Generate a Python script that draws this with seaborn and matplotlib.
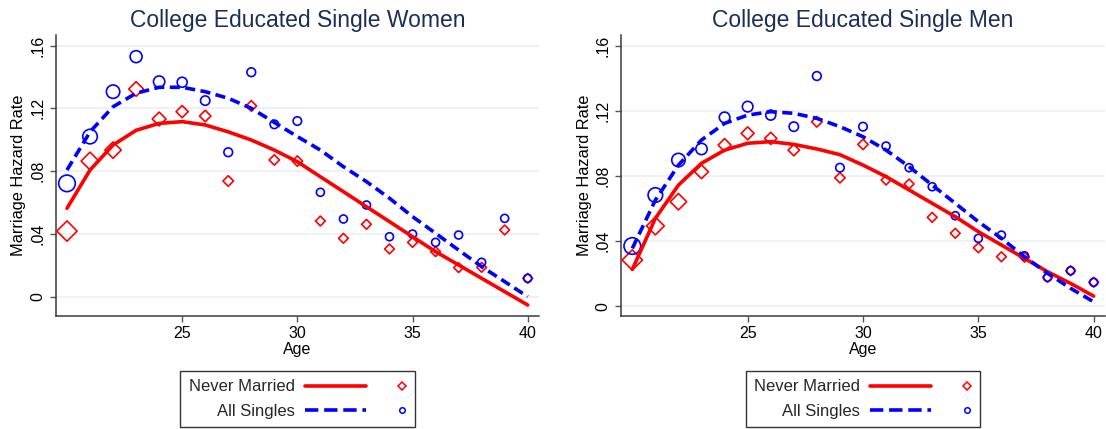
import numpy as np
import pandas as pd
import matplotlib
matplotlib.use("Agg")
import matplotlib.pyplot as plt
from matplotlib.lines import Line2D
from matplotlib.legend_handler import HandlerBase
import seaborn as sns

# ---------------- data ----------------
ages = [20, 21, 22, 23, 24, 25, 26, 27, 28, 29, 30, 31, 32, 33, 34, 35, 36, 37, 38, 39, 40]

women_nm_obs = [0.0418, 0.0864, 0.0934, 0.1323, 0.1132, 0.1179, 0.1151, 0.0737, 0.1215, 0.0871, 0.0864,
                0.0482, 0.0372, 0.0461, 0.0304, 0.0346, 0.0287, 0.0185, 0.0187, 0.0425, 0.0117]
women_all_obs = [0.0722, 0.1020, 0.1306, 0.1529, 0.1370, 0.1366, 0.1249, 0.0920, 0.1430, 0.1098, 0.1119,
                 0.0665, 0.0495, 0.0584, 0.0382, 0.0399, 0.0346, 0.0393, 0.0219, 0.0499, 0.0117]
women_nm_fit = [0.0563, 0.0807, 0.0966, 0.1060, 0.1104, 0.1115, 0.1094, 0.1050, 0.0998, 0.0934, 0.0860,
                0.0764, 0.0669, 0.0573, 0.0478, 0.0382, 0.0287, 0.0202, 0.0117, 0.0032, -0.0053]
women_all_fit = [0.0807, 0.1050, 0.1210, 0.1296, 0.1334, 0.1334, 0.1306, 0.1264, 0.1200, 0.1110, 0.1020,
                 0.0934, 0.0828, 0.0733, 0.0627, 0.0510, 0.0404, 0.0297, 0.0191, 0.0096, 0.0000]
women_weight = [69, 53, 45, 36, 32, 25, 22, 19, 19, 18, 18, 16, 16, 16, 16, 16, 16, 16, 16, 16, 16]

men_nm_obs = [0.0283, 0.0492, 0.0641, 0.0825, 0.0989, 0.1061, 0.1030, 0.0958, 0.1132, 0.0788, 0.0993,
              0.0774, 0.0750, 0.0545, 0.0447, 0.0358, 0.0303, 0.0300, 0.0176, 0.0217, 0.0146]
men_all_obs = [0.0369, 0.0682, 0.0897, 0.0965, 0.1159, 0.1225, 0.1173, 0.1102, 0.1413, 0.0850, 0.1102,
               0.0983, 0.0850, 0.0733, 0.0555, 0.0416, 0.0436, 0.0309, 0.0176, 0.0217, 0.0146]
men_nm_fit = [0.0225, 0.0539, 0.0743, 0.0877, 0.0958, 0.1000, 0.1010, 0.0993, 0.0965, 0.0930, 0.0866,
              0.0795, 0.0713, 0.0631, 0.0549, 0.0457, 0.0375, 0.0293, 0.0211, 0.0139, 0.0061]
men_all_fit = [0.0354, 0.0651, 0.0866, 0.1020, 0.1122, 0.1173, 0.1194, 0.1184, 0.1153, 0.1102, 0.1040,
               0.0958, 0.0856, 0.0743, 0.0631, 0.0518, 0.0416, 0.0303, 0.0201, 0.0109, 0.0026]
men_weight = [69, 53, 45, 32, 28, 28, 25, 22, 19, 18, 18, 16, 16, 16, 16, 16, 16, 16, 16, 16, 16]

titles = ["College Educated Single Women", "College Educated Single Men"]
series_labels = ["Never Married", "All Singles"]
ytick_vals = [0, 0.04, 0.08, 0.12, 0.16]
ytick_labels = ["0", ".04", ".08", ".12", ".16"]
xtick_vals = [25, 30, 35, 40]

# ---------------- style ----------------
sns.set_theme(style="white")
plt.rcParams["font.family"] = ["Liberation Sans", "DejaVu Sans"]

RED = "#ff0000"
BLUE = "#0000ff"
TITLE_C = "#1c2d5a"
DASH = (0, (2.8, 1.5))
LW = 2.6

fig = plt.figure(figsize=(11.06, 4.29), dpi=100)
W, H = 1106, 429


def axes_px(left, right, top, bottom):
    return fig.add_axes([left / W, (H - bottom) / H, (right - left) / W, (bottom - top) / H])


ax1 = axes_px(55.7, 539, 35, 316)
ax2 = axes_px(621, 1105, 35, 316)


class LineMarkerHandler(HandlerBase):
    def create_artists(self, legend, orig_handle, xdescent, ydescent,
                       width, height, fontsize, trans):
        line, mk = orig_handle
        y = height / 2.0 - ydescent
        x0 = -xdescent
        l = Line2D([x0, x0 + width * 0.60], [y, y], color=line.get_color(),
                   lw=line.get_linewidth(), linestyle=line.get_linestyle())
        m = Line2D([x0 + width * 0.955], [y], marker=mk.get_marker(), markersize=mk.get_markersize(),
                   markerfacecolor="none", markeredgecolor=mk.get_markeredgecolor(),
                   markeredgewidth=mk.get_markeredgewidth(), linestyle="none")
        l.set_transform(trans)
        m.set_transform(trans)
        return [l, m]


def draw_panel(ax, title, nm_obs, all_obs, nm_fit, all_fit, weight, ylim):
    df = pd.DataFrame({"age": ages, "nm_obs": nm_obs, "all_obs": all_obs,
                       "nm_fit": nm_fit, "all_fit": all_fit, "w": weight})
    wmin, wmax = min(weight), max(weight)
    sns.scatterplot(data=df, x="age", y="nm_obs", size="w", sizes=(1.55 * wmin, 1.55 * wmax),
                    marker="D", facecolor="none", edgecolor=RED, color=RED, linewidth=1.2,
                    legend=False, ax=ax, zorder=3)
    sns.scatterplot(data=df, x="age", y="all_obs", size="w", sizes=(2.07 * wmin, 2.07 * wmax),
                    marker="o", facecolor="none", edgecolor=BLUE, color=BLUE, linewidth=1.2,
                    legend=False, ax=ax, zorder=3)
    sns.lineplot(data=df, x="age", y="nm_fit", color=RED, lw=LW, errorbar=None, ax=ax, zorder=4)
    sns.lineplot(data=df, x="age", y="all_fit", color=BLUE, lw=LW, linestyle=DASH,
                 errorbar=None, ax=ax, zorder=4)

    ax.set_xlim(19.51, 40.49)
    ax.set_ylim(*ylim)
    ax.set_xticks(xtick_vals)
    ax.set_yticks(ytick_vals)
    ax.set_yticklabels(ytick_labels, rotation=90, va="center")
    ax.grid(False)
    for v in ytick_vals:
        ax.axhline(v, color="#e6eef1", lw=1.1, zorder=0)
    for s in ["top", "right"]:
        ax.spines[s].set_visible(False)
    for s in ["left", "bottom"]:
        ax.spines[s].set_color("#3a3a3a")
        ax.spines[s].set_linewidth(1.1)
    ax.tick_params(axis="both", which="major", direction="out", length=4.3, width=1.0,
                   color="#555555", labelsize=11.5, labelcolor="black",
                   left=True, bottom=True)
    ax.tick_params(axis="y", pad=3)
    ax.tick_params(axis="x", pad=3)
    ax.set_xlabel("Age", fontsize=11.5, labelpad=0.5, color="black")
    ax.set_ylabel("Marriage Hazard Rate", fontsize=11.8, labelpad=3, color="black")
    ax.set_title(title, fontsize=16.5, color=TITLE_C, pad=5.5)

    h_nm = (Line2D([], [], color=RED, lw=LW),
            Line2D([], [], marker="D", markersize=4.2, markeredgecolor=RED, markeredgewidth=1.1))
    h_all = (Line2D([], [], color=BLUE, lw=LW, linestyle=DASH),
             Line2D([], [], marker="o", markersize=4.0, markeredgecolor=BLUE, markeredgewidth=1.1))
    leg = ax.legend([h_nm, h_all], series_labels, handler_map={tuple: LineMarkerHandler()},
                    loc="upper center", bbox_to_anchor=(0.5, -0.196), borderaxespad=0,
                    frameon=True, fancybox=False, shadow=False, markerfirst=False,
                    fontsize=12, handlelength=6.1, handletextpad=0.6, labelspacing=0.55,
                    borderpad=0.5)
    leg.get_frame().set_edgecolor("black")
    leg.get_frame().set_linewidth(1.0)


draw_panel(ax1, titles[0], women_nm_obs, women_all_obs, women_nm_fit, women_all_fit,
           women_weight, (-0.0123, 0.1667))
draw_panel(ax2, titles[1], men_nm_obs, men_all_obs, men_nm_fit, men_all_fit,
           men_weight, (-0.0061, 0.1665))

fig.savefig("out.png", dpi=100)
